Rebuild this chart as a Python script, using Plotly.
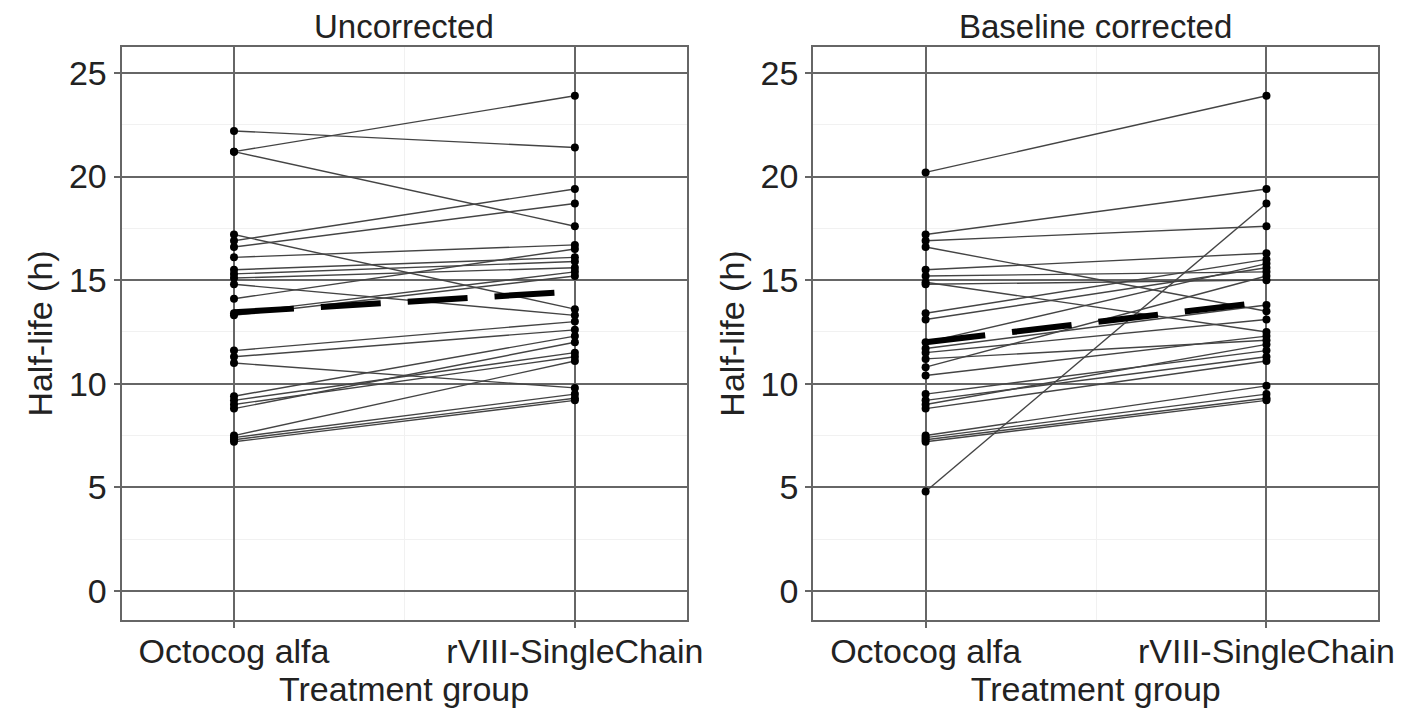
import plotly.graph_objects as go

# Half-life per subject (h), paired by position
octocog_uncorr = [22.2, 21.2, 21.2, 17.2, 16.9, 16.6, 16.1, 15.5, 15.3, 15.1, 14.8, 14.1, 13.4,
                  13.3, 11.6, 11.3, 11.0, 9.4, 9.2, 9.0, 8.8, 7.5, 7.4, 7.3, 7.2]
rviii_uncorr = [21.4, 23.9, 17.6, 13.6, 19.4, 18.7, 16.7, 16.1, 15.9, 15.6, 13.3, 16.5, 15.4,
                15.2, 13.0, 12.6, 9.8, 12.3, 11.5, 11.3, 12.0, 11.1, 9.5, 9.3, 9.2]

octocog_corr = [20.2, 17.2, 16.9, 16.6, 15.5, 15.2, 14.9, 14.8, 13.4, 13.1, 12.0, 11.7, 11.5,
                11.2, 10.8, 10.4, 9.5, 9.2, 9.0, 8.8, 7.5, 7.4, 7.3, 7.2, 4.8]
rviii_corr = [23.9, 19.4, 17.6, 13.5, 16.3, 15.4, 12.5, 15.0, 16.0, 15.6, 15.8, 13.8, 13.1,
              12.1, 15.2, 12.3, 11.6, 11.3, 11.9, 11.1, 9.9, 9.5, 9.3, 9.2, 18.7]

# Group means (h)
mean_uncorr = [13.45, 14.45]
mean_corr = [12.0, 13.95]

groups = ["Octocog alfa", "rVIII-SingleChain"]
group_pos = [1, 2]
panel_titles = ["Uncorrected", "Baseline corrected"]
y_tickvals = [0, 5, 10, 15, 20, 25]

FONT = "Liberation Sans, Arial, sans-serif"
GRID = "#666666"
TEXT = "#222222"
W, H = 1417, 713

fig = go.Figure()


def add_panel(left, right, means, xa, ya):
    xs, ys = [], []
    for a, b in zip(left, right):
        xs += [group_pos[0], group_pos[1], None]
        ys += [a, b, None]
    fig.add_trace(go.Scatter(
        x=xs, y=ys, mode="lines", xaxis=xa, yaxis=ya,
        line=dict(color="#444444", width=1.4), hoverinfo="skip", showlegend=False))
    mx = [group_pos[0]] * len(left) + [group_pos[1]] * len(right)
    my = list(left) + list(right)
    fig.add_trace(go.Scatter(
        x=mx, y=my, mode="markers", xaxis=xa, yaxis=ya,
        marker=dict(color="black", size=8), showlegend=False))
    fig.add_trace(go.Scatter(
        x=group_pos, y=means, mode="lines", xaxis=xa, yaxis=ya,
        line=dict(color="black", width=6, dash="60px,27px"), showlegend=False))


add_panel(octocog_uncorr, rviii_uncorr, mean_uncorr, "x", "y")
add_panel(octocog_corr, rviii_corr, mean_corr, "x2", "y2")

# panel boxes in pixels
y_dom = [1 - 620 / H, 1 - 47 / H]
x_doms = [[123 / W, 695 / W], [823 / W, 1395 / W]]

common_x = dict(
    range=[0.670, 2.328], tickvals=group_pos, ticktext=groups,
    showgrid=True, gridcolor=GRID, gridwidth=2,
    showline=True, mirror=True, linecolor=GRID, linewidth=2,
    ticks="outside", ticklen=6, tickwidth=2, tickcolor=GRID,
    ticklabelstandoff=-6,
    minor=dict(dtick=0.5, tick0=1, showgrid=True, gridcolor="#f1f1f1", gridwidth=1),
    zeroline=False, tickfont=dict(size=34, color=TEXT),
    title=dict(text="Treatment group", font=dict(size=34, color=TEXT), standoff=7),
)
common_y = dict(
    range=[-1.40, 26.25], tickvals=y_tickvals,
    showgrid=True, gridcolor=GRID, gridwidth=2,
    showline=True, mirror=True, linecolor=GRID, linewidth=2,
    ticks="outside", ticklen=6, tickwidth=2, tickcolor=GRID,
    minor=dict(dtick=2.5, tick0=0, showgrid=True, gridcolor="#f1f1f1", gridwidth=1),
    zeroline=False, tickfont=dict(size=34, color=TEXT),
    title=dict(text="Half-life (h)", font=dict(size=34, color=TEXT), standoff=6),
)

fig.update_layout(
    width=W, height=H, autosize=False,
    margin=dict(l=0, r=0, t=0, b=0),
    paper_bgcolor="white", plot_bgcolor="white",
    font=dict(family=FONT, color=TEXT),
    xaxis=dict(domain=x_doms[0], anchor="y", **common_x),
    yaxis=dict(domain=y_dom, anchor="x", **common_y),
    xaxis2=dict(domain=x_doms[1], anchor="y2", **common_x),
    yaxis2=dict(domain=y_dom, anchor="x2", **common_y),
)

for dom, title in zip(x_doms, panel_titles):
    fig.add_annotation(
        x=(dom[0] + dom[1]) / 2, y=1 - 27 / H, xref="paper", yref="paper",
        text=title, showarrow=False, font=dict(size=33, color=TEXT),
        xanchor="center", yanchor="middle")

fig.write_html("out.html")
